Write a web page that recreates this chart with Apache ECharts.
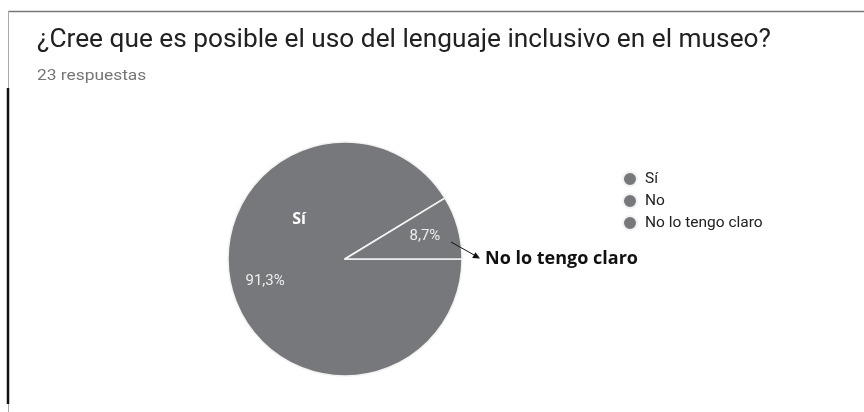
<!DOCTYPE html>
<html>
<head>
<meta charset="utf-8">
<style>
  html, body { margin: 0; padding: 0; background: #ffffff; }
  #chart { width: 864px; height: 412px; }
</style>
<script src="https://cdn.jsdelivr.net/npm/echarts@6/dist/echarts.min.js"></script>
</head>
<body>
<div id="chart"></div>
<script>
// ---- data ----
const titleText = '¿Cree que es posible el uso del lenguaje inclusivo en el museo?';
const subtitleText = '23 respuestas';
const categories = ['Sí', 'No', 'No lo tengo claro'];
const counts = [21, 0, 2];
const annotationMain = 'Sí';
const annotationSmall = 'No lo tengo claro';

const sliceColor = '#77787b';
const pieData = categories.map((c, i) => ({ name: c, value: counts[i] }));

const chart = echarts.init(document.getElementById('chart'), null, { renderer: 'canvas' });

function pct(p) {
  if (!p.value) return '';
  return p.percent.toFixed(1).replace('.', ',') + '%';
}

chart.setOption({
  animation: false,
  backgroundColor: '#ffffff',
  color: [sliceColor, sliceColor, sliceColor],
  legend: {
    orient: 'vertical',
    left: 617,
    top: 166,
    icon: 'circle',
    itemWidth: 14,
    itemHeight: 14,
    itemGap: 6,
    selectedMode: false,
    textStyle: { fontFamily: 'Roboto', fontSize: 15.5, lineHeight: 14, color: '#212121', padding: [0, 0, 0, 3] },
    data: categories
  },
  series: [
    {
      type: 'pie',
      center: [345, 259],
      radius: [0, 117],
      startAngle: 0,
      clockwise: true,
      silent: true,
      label: { show: false },
      labelLine: { show: false },
      itemStyle: { color: sliceColor, borderColor: '#f2f2f2', borderWidth: 1.5 },
      data: pieData
    },
    {
      type: 'pie',
      center: [345, 259],
      radius: [0, 160],
      startAngle: 0,
      clockwise: true,
      silent: true,
      legendHoverLink: false,
      itemStyle: { color: 'rgba(0,0,0,0)', borderWidth: 0 },
      label: {
        show: true,
        position: 'inside',
        formatter: pct,
        fontFamily: 'Roboto',
        fontSize: 15,
        color: '#eeeeee'
      },
      labelLine: { show: false },
      data: pieData
    }
  ],
  graphic: [
    // title texts
    { type: 'text', x: 37, y: 41, z: 100, silent: true, scaleX: 1.05,
      style: { text: titleText, fill: '#212121', font: '25px Roboto', align: 'left', verticalAlign: 'middle' } },
    { type: 'text', x: 37, y: 76, z: 100, silent: true, scaleX: 1.24,
      style: { text: subtitleText, fill: '#757575', font: '14px Roboto', align: 'left', verticalAlign: 'middle' } },
    // frame
    { type: 'line', z: 100, shape: { x1: 8, y1: 11.5, x2: 864, y2: 11.5 }, style: { stroke: '#777777', lineWidth: 1.5 }, silent: true },
    { type: 'line', z: 100, shape: { x1: 8.5, y1: 11, x2: 8.5, y2: 412 }, style: { stroke: '#aaaaaa', lineWidth: 1 }, silent: true },
    { type: 'line', z: 100, shape: { x1: 8, y1: 88, x2: 8, y2: 404 }, style: { stroke: '#111111', lineWidth: 2.5 }, silent: true },
    // annotations
    { type: 'text', x: 299, y: 219, z: 100, silent: true,
      style: { text: annotationMain, fill: '#ffffff', font: 'bold 16px "Open Sans"', align: 'center', verticalAlign: 'middle' } },
    { type: 'line', z: 100, shape: { x1: 451, y1: 242, x2: 475, y2: 255.5 }, style: { stroke: '#111111', lineWidth: 1 }, silent: true },
    { type: 'polygon', z: 100, shape: { points: [[480, 258.5], [472.2, 258.1], [475.5, 252.3]] }, style: { fill: '#111111' }, silent: true },
    { type: 'text', x: 485, y: 259, z: 100, silent: true,
      style: { text: annotationSmall, fill: '#111111', font: 'bold 18px "Open Sans"', align: 'left', verticalAlign: 'middle' } }
  ]
});
</script>
</body>
</html>
